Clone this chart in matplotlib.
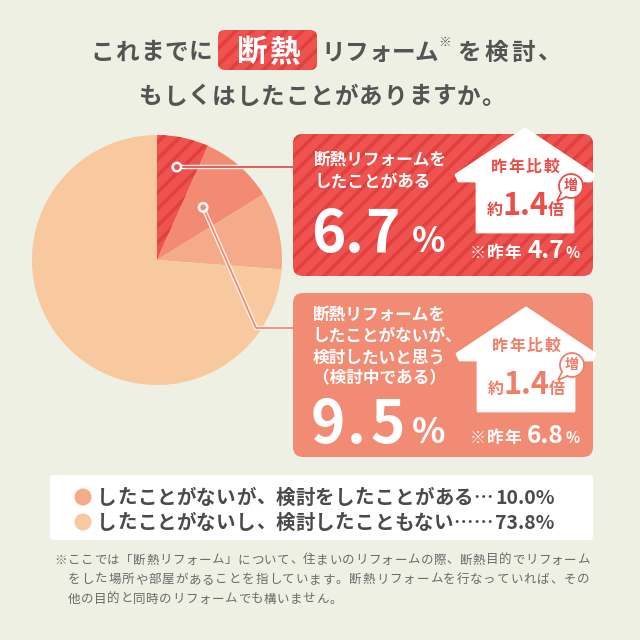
import matplotlib
matplotlib.use('Agg')
import matplotlib.pyplot as plt
from matplotlib.patches import FancyBboxPatch, Polygon, Circle
import numpy as np

plt.rcParams['font.family'] = ['Noto Sans CJK JP', 'DejaVu Sans']
plt.rcParams['hatch.linewidth'] = 2.6

# ---------------- data ----------------
categories = ['断熱リフォームをしたことがある',
              '検討中である',
              'したことがないが、検討をしたことがある',
              'したことがないし、検討したこともない']
shares = [6.7, 9.5, 10.0, 73.8]
prev_year = [4.7, 6.8]
ratio = [1.4, 1.4]
box_lines = [['断熱リフォームを', 'したことがある'],
             ['断熱リフォームを', 'したことがないが、', '検討したいと思う', '（検討中である）']]
legend_leaders = ['…', '……']
title_parts = ['これまでに', '断熱', 'リフォーム', '※', 'を検討、']
title_line2 = 'もしくはしたことがありますか。'
footnote = ['ここでは「断熱リフォーム」について、住まいのリフォームの際、断熱目的でリフォーム',
            'をした場所や部屋があることを指しています。断熱リフォームを行なっていれば、その',
            '他の目的と同時のリフォームでも構いません。']

# ---------------- style ----------------
BG = '#EEF0E4'
GRAY = '#555454'
RED = '#EF534F'
STRIPE = '#E2403E'
SALMON = '#F28B74'
wedge_colors = [RED, '#F38A72', '#F5AA89', '#F8C99E']
house_text = ['#EA4E4A', '#EF7F68']

fig = plt.figure(figsize=(6.4, 6.4), dpi=100, facecolor=BG)
CX, CY, R = 157, 260, 125
pie_ax = fig.add_axes([(CX - R) / 640, (640 - CY - R) / 640, 2 * R / 640, 2 * R / 640], zorder=1)
ax = fig.add_axes([0, 0, 1, 1], zorder=2)
ax.set_xlim(0, 640)
ax.set_ylim(640, 0)
ax.axis('off')
ax.patch.set_alpha(0)

wedges, _ = pie_ax.pie(shares, colors=wedge_colors, startangle=90, counterclock=False,
                       radius=1, wedgeprops=dict(linewidth=0))
wedges[0].set_hatch('//')
wedges[0].set_edgecolor(STRIPE)
wedges[0].set_linewidth(0)
pie_ax.set_xlim(-1, 1)
pie_ax.set_ylim(-1, 1)
pie_ax.set_aspect('equal')
pie_ax.axis('off')


def cjk(x, y, s, size, pitch, color, ha='left', weight='bold', zorder=6):
    """Draw CJK text with a fixed pitch per character; y is the visual centre."""
    em = size * 100 / 72
    base = y + 0.36 * em
    total = pitch * len(s)
    x0 = x - total / 2 if ha == 'center' else x
    kw = dict(fontsize=size, fontweight=weight, color=color, va='baseline', zorder=zorder)
    for c in s:
        if c in '、。」':
            ax.text(x0 + 0.5, base, c, ha='left', **kw)
        elif c == '「':
            ax.text(x0 + pitch - 0.5, base, c, ha='right', **kw)
        else:
            ax.text(x0 + pitch / 2, base, c, ha='center', **kw)
        x0 += pitch
    return x0


# ---------------- title ----------------
cjk(90, 51, title_parts[0], 17, 24.6, GRAY)
ax.add_patch(FancyBboxPatch((218, 30), 99, 40, boxstyle='round,pad=0,rounding_size=7',
                            facecolor=RED, edgecolor=STRIPE, linewidth=0, hatch='//', zorder=4))
cjk(267.5, 50, title_parts[1], 22, 33, 'white', ha='center')
cjk(322, 51, title_parts[2], 17, 23.2, GRAY)
ax.text(445, 42, title_parts[3], ha='center', va='center', fontsize=9, fontweight='bold', color=GRAY)
cjk(456, 51, title_parts[4], 17, 27, GRAY)
cjk(138, 95, title_line2, 17, 24.5, GRAY)


# ---------------- boxes ----------------
def house(cx, top, tcol, r):
    pts = [(cx, top), (cx + 69, top + 46), (cx + 66, top + 52), (cx + 48, top + 52),
           (cx + 48, top + 103), (cx - 48, top + 103), (cx - 48, top + 52),
           (cx - 66, top + 52), (cx - 69, top + 46)]
    ax.add_patch(Polygon(pts, closed=True, facecolor='white', edgecolor='white',
                         linewidth=2, joinstyle='round', zorder=5))
    cjk(cx, top + 37, '昨年比較', 11.5, 17.5, tcol, ha='center')
    base = top + 86
    ax.text(cx - 30, base, '約', ha='center', va='baseline', fontsize=11.5, fontweight='bold',
            color=tcol, zorder=6)
    ax.text(cx, base, f'{r:.1f}', ha='center', va='baseline', fontsize=22, fontweight='bold',
            color=tcol, zorder=6)
    ax.text(cx + 31, base, '倍', ha='center', va='baseline', fontsize=11.5, fontweight='bold',
            color=tcol, zorder=6)
    bx, by = cx + 46, top + 57
    ax.add_patch(Polygon([(bx - 9, by + 5), (bx - 14, by + 15), (bx - 2, by + 10)], closed=True,
                         facecolor='white', edgecolor=tcol, linewidth=1.3, zorder=6))
    ax.add_patch(Circle((bx, by), 12, facecolor='white', edgecolor=tcol, linewidth=1.3, zorder=7))
    ax.add_patch(Polygon([(bx - 8, by + 5), (bx - 12, by + 13), (bx - 3, by + 9)], closed=True,
                         facecolor='white', edgecolor='none', zorder=7))
    ax.text(bx, by, '増', ha='center', va='center', fontsize=10, fontweight='bold',
            color=tcol, zorder=8)


def big_value(base, val, prev, centers):
    w = dict(fontweight='bold', color='white', zorder=6, va='baseline')
    for ch, cx in zip(f'{val:.1f}', centers):
        ax.text(cx, base, ch, ha='center', fontsize=42, **w)
    ax.text(412, base, '%', ha='left', fontsize=25, **w)
    b2 = base + 6 if base < 300 else base
    ax.text(478, b2, '※', ha='center', fontsize=11.5, **w)
    cjk(487, b2 - 6.2, '昨年', 12, 17, 'white')
    ax.text(527, b2, f'{prev:.1f}', ha='left', fontsize=17.5, **w)
    ax.text(565, b2, '%', ha='left', fontsize=10.5, **w)


wk = dict(fontsize=12, fontweight='bold', color='white', zorder=6)
# box 1
ax.add_patch(FancyBboxPatch((293, 134), 300, 142, boxstyle='round,pad=0,rounding_size=10',
                            facecolor=RED, edgecolor=STRIPE, linewidth=0, hatch='//', zorder=4))
for i, line in enumerate(box_lines[0]):
    ax.text(314, 160 + 22 * i, line, ha='left', va='center', **wk)
big_value(252, shares[0], prev_year[0], [328, 354, 382])
house(525, 129, house_text[0], ratio[0])

# box 2
ax.add_patch(FancyBboxPatch((293, 293), 300, 164, boxstyle='round,pad=0,rounding_size=10',
                            facecolor=SALMON, edgecolor='none', linewidth=0, zorder=4))
for i, line in enumerate(box_lines[1]):
    ax.text(313, 315 + 21 * i, line, ha='left', va='center', **wk)
big_value(443, shares[1], prev_year[1], [328, 356, 388])
house(526, 308, house_text[1], ratio[1])

# ---------------- connectors ----------------
cum = np.concatenate([[0], np.cumsum(shares)])
fracs = [0.76, 0.56]
line_cols = ['#E8514C', '#F28B74']
dots = []
for i in range(2):
    th = np.deg2rad(90 - 360 * (cum[i] + shares[i] / 2) / 100)
    dots.append((CX + fracs[i] * R * np.cos(th), CY - fracs[i] * R * np.sin(th)))
conn = [[dots[0], (296, dots[0][1])],
        [dots[1], (256, 328), (296, 328)]]
for i, pts in enumerate(conn):
    xs = [p[0] for p in pts]
    ys = [p[1] for p in pts]
    ax.plot(xs, ys, color='#FBF1EA', lw=3.2, solid_joinstyle='miter', zorder=3)
    ax.plot(xs, ys, color=line_cols[i], lw=1.3, solid_joinstyle='miter', zorder=3.1)
    ax.add_patch(Circle(pts[0], 4.2, facecolor=wedge_colors[i], edgecolor='white', lw=1.8, zorder=3.2))

# ---------------- legend ----------------
ax.add_patch(FancyBboxPatch((50, 475), 543, 65, boxstyle='round,pad=0,rounding_size=4',
                            facecolor='white', edgecolor='none', zorder=4))
LGRAY = '#4A4A4A'
for j, i in enumerate([2, 3]):
    y = 497 + 25 * j
    ax.add_patch(Circle((83, y), 8.5, facecolor=wedge_colors[i], edgecolor='none', zorder=5))
    xe = cjk(97, y, categories[i] + legend_leaders[j], 14, 19.8, LGRAY)
    ax.text(xe + 2, y + 0.36 * 14 * 100 / 72, f'{shares[i]:.1f}%', ha='left', va='baseline',
            fontsize=14, fontweight='bold', color=LGRAY, zorder=6)

# ---------------- footnote ----------------
FG = '#6A6A6A'
x_start, x_end = 67.5, 590
pitches = [(x_end - x_start) / len(footnote[0]), (x_end - x_start) / len(footnote[1])]
pitches.append(pitches[0])
cjk(54, 559, '※', 9, 13.4, FG, weight='normal')
for i, line in enumerate(footnote):
    cjk(x_start, 559 + 19.5 * i, line, 9, pitches[i], FG, weight='normal')

fig.savefig('out.png', dpi=100, facecolor=BG)
